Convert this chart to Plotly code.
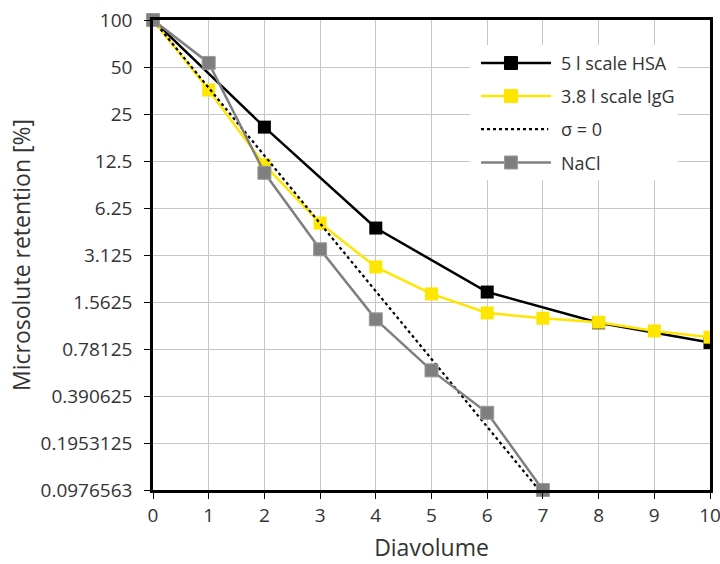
import plotly.graph_objects as go

# Diavolume steps and retention values (%)
hsa_x = [0, 2, 4, 6, 8, 10]
hsa_y = [100, 20.6, 4.65, 1.81, 1.15, 0.86]

igg_x = [0, 1, 2, 3, 4, 5, 6, 7, 8, 9, 10]
igg_y = [100, 35.6, 11.8, 5.0, 2.62, 1.76, 1.33, 1.23, 1.16, 1.02, 0.93]

sigma0_x = [0, 1, 2, 3, 4, 5, 6, 7]
sigma0_y = [100, 36.8, 13.5, 4.98, 1.83, 0.674, 0.248, 0.0912]

nacl_x = [0, 1, 2, 3, 4, 5, 6, 7]
nacl_y = [100, 53.1, 10.5, 3.4, 1.21, 0.57, 0.305, 0.0977]

y_ticks = [100, 50, 25, 12.5, 6.25, 3.125, 1.5625, 0.78125, 0.390625, 0.1953125, 0.0976563]
y_tick_text = ["100", "50", "25", "12.5", "6.25", "3.125", "1.5625", "0.78125",
               "0.390625", "0.1953125", "0.0976563"]
x_ticks = list(range(0, 11))

series_names = ["5 l scale HSA", "3.8 l scale IgG", "σ = 0", "NaCl"]

FONT = "'Open Sans', sans-serif"
TXT = "#333333"
BLACK = "#000000"
YELLOW = "#FFE600"
GREY = "#7f7f7f"
GRID = "#c6c6c6"
MSIZE = 13

fig = go.Figure()
fig.add_trace(go.Scatter(
    x=hsa_x, y=hsa_y, name=series_names[0], mode="lines+markers",
    line=dict(color=BLACK, width=2.5),
    marker=dict(symbol="square", size=MSIZE, color=BLACK),
    showlegend=False,
))
fig.add_trace(go.Scatter(
    x=igg_x, y=igg_y, name=series_names[1], mode="lines+markers",
    line=dict(color=YELLOW, width=2.5),
    marker=dict(symbol="square", size=MSIZE, color=YELLOW),
    showlegend=False,
))
fig.add_trace(go.Scatter(
    x=sigma0_x, y=sigma0_y, name=series_names[2], mode="lines",
    line=dict(color=BLACK, width=2.2, dash="dot"),
    showlegend=False,
))
fig.add_trace(go.Scatter(
    x=nacl_x, y=nacl_y, name=series_names[3], mode="lines+markers",
    line=dict(color=GREY, width=2.5),
    marker=dict(symbol="square", size=MSIZE, color=GREY,
                line=dict(color="#9a9a9a", width=1)),
    cliponaxis=False, showlegend=False,
))

# Legend drawn in paper coordinates with long sample lines
shapes = []
annotations = []
shapes.append(dict(type="rect", xref="paper", yref="paper",
                   x0=0.569, x1=0.9425, y0=0.6596, y1=0.9468,
                   fillcolor="white", line=dict(width=0), layer="above"))
legend_rows = [0.9085, 0.8383, 0.768, 0.6968]
legend_styles = [
    dict(color=BLACK, dash="solid", marker=BLACK, mline=BLACK),
    dict(color=YELLOW, dash="solid", marker=YELLOW, mline=YELLOW),
    dict(color=BLACK, dash="dot", marker=None, mline=None),
    dict(color=GREY, dash="solid", marker=GREY, mline="#9a9a9a"),
]
lx0, lx1, mx, tx = 0.5889, 0.7145, 0.6427, 0.7289
hx, hy = (MSIZE / 2) / 557, (MSIZE / 2) / 470
for name, ry, st in zip(series_names, legend_rows, legend_styles):
    shapes.append(dict(type="line", xref="paper", yref="paper",
                       x0=lx0, x1=lx1 if st["dash"] == "solid" else lx1 - 0.005,
                       y0=ry, y1=ry, layer="above",
                       line=dict(color=st["color"], width=2.5 if st["dash"] == "solid" else 2.2,
                                 dash=st["dash"])))
    if st["marker"]:
        shapes.append(dict(type="rect", xref="paper", yref="paper",
                           x0=mx - hx, x1=mx + hx, y0=ry - hy, y1=ry + hy,
                           fillcolor=st["marker"], layer="above",
                           line=dict(color=st["mline"], width=1)))
    annotations.append(dict(xref="paper", yref="paper", x=tx, y=ry,
                            xanchor="left", yanchor="middle", showarrow=False,
                            text=name, font=dict(family=FONT, size=18, color=TXT)))

fig.update_layout(
    width=720, height=564,
    margin=dict(l=153, r=10, t=20, b=74),
    paper_bgcolor="white", plot_bgcolor="white",
    font=dict(family=FONT, size=19, color=TXT),
    showlegend=False,
    shapes=shapes,
    annotations=annotations,
)
fig.update_xaxes(
    range=[0, 10], tickvals=x_ticks, ticks="outside", ticklen=6,
    tickcolor=BLACK, showline=True, linecolor=BLACK, linewidth=2.5,
    mirror=True, showgrid=True, gridcolor=GRID, gridwidth=1.3,
    zeroline=False, tickfont=dict(size=19, color=TXT), automargin=False,
    ticklabeloverflow="allow", ticklabelstandoff=0,
    title=dict(text="Diavolume", font=dict(size=23, color=TXT), standoff=14),
)
fig.update_yaxes(
    type="log", range=[-1.01029, 2.0],
    tickvals=y_ticks, ticktext=y_tick_text, ticks="outside", ticklen=6,
    tickcolor=BLACK, showline=True, linecolor=BLACK, linewidth=2.5,
    mirror=True, showgrid=True, gridcolor=GRID, gridwidth=1.3,
    zeroline=False, tickfont=dict(size=19, color=TXT), automargin=False,
    ticklabeloverflow="allow", ticklabelstandoff=8,
    title=dict(text="Microsolute retention [%]", font=dict(size=23, color=TXT), standoff=4),
)

fig.write_html("out.html")
